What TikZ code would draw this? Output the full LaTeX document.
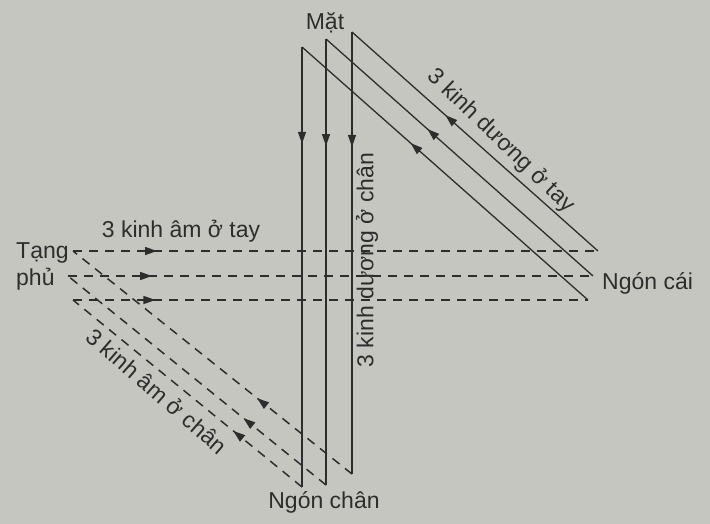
\documentclass[tikz,border=0pt]{standalone}
\usepackage{fontspec}
\setmainfont{Liberation Sans}
\usetikzlibrary{arrows.meta,decorations.markings}
\definecolor{paper}{RGB}{198,198,193}
\definecolor{ink}{RGB}{45,45,45}
\tikzset{
  flow/.style={postaction={decorate,decoration={markings,
      mark=at position #1 with {\arrow{Triangle[length=12pt,width=8pt]}}}}},
  yang/.style={ink, line width=1.3pt},
  yin/.style={ink, line width=1.5pt, dash pattern=on 9pt off 7pt},
  lbl/.style={text=ink, font=\fontsize{23}{27}\selectfont, inner sep=0pt}
}

\begin{document}
\begin{tikzpicture}[x=1pt, y=-1pt]
    \fill[paper] (0,0) rectangle (710,524);

    % corners of the three circuits
    \coordinate (organ1) at (73,300);  \coordinate (thumb1) at (588,300);
    \coordinate (face1)  at (302,47);  \coordinate (toe1)   at (302,487);
    \coordinate (organ2) at (68,276);  \coordinate (thumb2) at (593,276);
    \coordinate (face2)  at (326,39);  \coordinate (toe2)   at (326,485);
    \coordinate (organ3) at (73,251);  \coordinate (thumb3) at (598,251);
    \coordinate (face3)  at (352,32);  \coordinate (toe3)   at (352,474);

    % labels
    \node (mat) [lbl] at (325,23) {Mặt};
    \node (tangphu) [lbl, anchor=west, align=left] at (16,266) {Tạng\\phủ};
    \node (amtay) [lbl] at (181,231) {3 kinh âm ở tay};
    \node (duongtay) [lbl, rotate=-44] at (501,141) {3 kinh dương ở tay};
    \node (amchan) [lbl, rotate=-41] at (157,391) {3 kinh âm ở chân};
    \node (duongchan) [lbl, rotate=90] at (367,260) {3 kinh dương ở chân};
    \node (ngonchan) [lbl] at (324,502) {Ngón chân};
    \node (ngoncai) [lbl, anchor=west] at (602,283) {Ngón cái};

    % inner circuit
    \draw[yin, flow=0.16] (organ1) -- (thumb1);
    \draw[yang, flow=0.62] (thumb1) -- (face1);
    \draw[yang, flow=0.22] (face1) -- (toe1);
    \draw[yin, flow=0.3] (toe1) -- (organ1);

    % middle circuit
    \draw[yin, flow=0.16] (organ2) -- (thumb2);
    \draw[yang, flow=0.62] (thumb2) -- (face2);
    \draw[yang, flow=0.24] (face2) -- (toe2);
    \draw[yin, flow=0.32] (toe2) -- (organ2);

    % outer circuit
    \draw[yin, flow=0.16] (organ3) -- (thumb3);
    \draw[yang, flow=0.62] (thumb3) -- (face3);
    \draw[yang, flow=0.26] (face3) -- (toe3);
    \draw[yin, flow=0.34] (toe3) -- (organ3);
\end{tikzpicture}
\end{document}
